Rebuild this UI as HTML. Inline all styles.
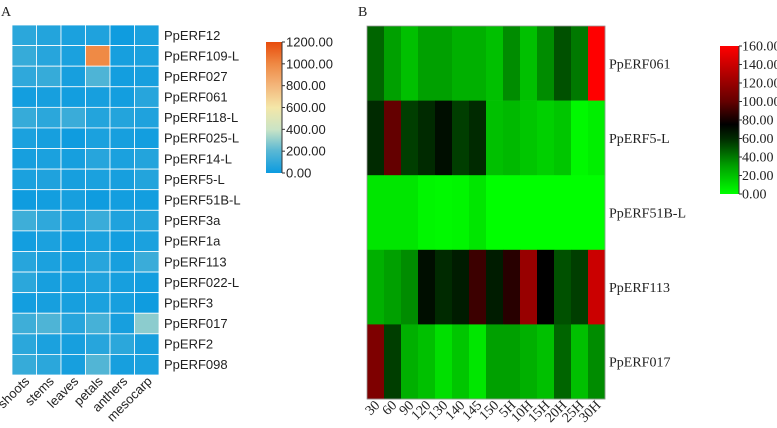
<!DOCTYPE html>
<html><head><meta charset="utf-8"><style>
body{margin:0;background:#fff;width:777px;height:428px;overflow:hidden}
svg{display:block}
.sa{font-family:"Liberation Sans",sans-serif;font-size:13px;fill:#222}
.sf{font-family:"Liberation Serif",serif;font-size:14px;fill:#222}
</style></head><body>
<svg id="c" width="777" height="428">
<text x="1" y="16" class="sf" font-size="18">A</text>
<text x="358" y="16" class="sf" font-size="18">B</text>
<defs>
<linearGradient id="ga" x1="0" y1="1" x2="0" y2="0">
<stop offset="0" stop-color="#0b9be0"/><stop offset="0.17" stop-color="#5ab8d4"/><stop offset="0.33" stop-color="#c9e4c6"/><stop offset="0.5" stop-color="#f4e7a8"/><stop offset="0.67" stop-color="#f3b57a"/><stop offset="0.83" stop-color="#ef8a45"/><stop offset="1" stop-color="#e84c0c"/></linearGradient>
<linearGradient id="gb" x1="0" y1="1" x2="0" y2="0">
<stop offset="0" stop-color="#00ff00"/><stop offset="0.19" stop-color="#00a000"/><stop offset="0.375" stop-color="#002a00"/><stop offset="0.47" stop-color="#000"/><stop offset="0.625" stop-color="#640000"/><stop offset="1" stop-color="#ff0000"/></linearGradient>
</defs>
<g id="ga-g"></g><g id="gb-g"></g>
</svg>
<script>
const genesA=["PpERF12","PpERF109-L","PpERF027","PpERF061","PpERF118-L","PpERF025-L","PpERF14-L","PpERF5-L","PpERF51B-L","PpERF3a","PpERF1a","PpERF113","PpERF022-L","PpERF3","PpERF017","PpERF2","PpERF098"];
const tissues=["shoots","stems","leaves","petals","anthers","mesocarp"];
const valuesA=[
[80,60,40,50,10,40],[110,70,40,1000,30,40],[90,110,30,170,20,30],[20,30,20,30,20,70],
[110,80,120,60,60,50],[40,30,10,40,30,20],[30,40,30,70,40,60],[40,50,30,40,30,60],
[10,20,30,10,20,20],[130,90,50,120,50,60],[20,40,20,40,20,40],[70,40,30,70,30,120],
[80,30,30,50,30,20],[20,30,30,40,30,10],[130,170,70,150,30,290],[80,40,30,70,80,30],[110,80,30,180,30,40]];
const ticksA=["0.00","200.00","400.00","600.00","800.00","1000.00","1200.00"];
const genesB=["PpERF061","PpERF5-L","PpERF51B-L","PpERF113","PpERF017"];
const timesB=["30","60","90","120","130","140","145","150","5H","10H","15H","20H","25H","30H"];
const valuesB=[
[45,30,20,30,30,25,25,20,35,20,35,50,40,160],
[60,100,55,60,70,55,60,20,22,18,15,18,2,5],
[8,8,8,3,2,3,8,0,0,0,0,0,0,0],
[25,30,35,70,60,65,90,65,85,120,75,50,55,140],
[110,55,25,20,10,18,8,30,30,25,20,45,20,35]];
const ticksB=["0.00","20.00","40.00","60.00","80.00","100.00","120.00","140.00","160.00"];
const NS="http://www.w3.org/2000/svg";
function mk(t,a,p,txt){const e=document.createElementNS(NS,t);for(const k in a)e.setAttribute(k,a[k]);if(txt!==undefined)e.textContent=txt;p.appendChild(e);return e;}
function lerp(stops,v){for(let i=1;i<stops.length;i++){if(v<=stops[i][0]){const a=stops[i-1],b=stops[i];const t=(v-a[0])/(b[0]-a[0]);return "rgb("+[1,2,3].map(j=>Math.round(a[j]+(b[j]-a[j])*t)).join(",")+")";}}const l=stops[stops.length-1];return "rgb("+l[1]+","+l[2]+","+l[3]+")";}
const stA=[[0,11,155,224],[200,90,184,212],[400,201,228,198],[600,244,231,168],[800,243,181,122],[1000,239,138,69],[1200,232,76,12]];
const stB=[[0,0,255,0],[30,0,160,0],[60,0,42,0],[75,0,0,0],[100,100,0,0],[160,255,0,0]];
const gA=document.getElementById("ga-g"),gB=document.getElementById("gb-g");
// Panel A
const ax0=12,ay0=25,cw=24.5,rh=350/17;
valuesA.forEach((row,r)=>{row.forEach((v,c)=>{const e=mk("rect",{x:ax0+c*cw,y:ay0+r*rh,width:cw,height:rh,fill:lerp(stA,v),stroke:"#fff","stroke-width":0.8},gA);

});
const t=mk("text",{x:164,y:ay0+(r+0.5)*rh+4.5,class:"sa"},gA,genesA[r]);

});
tissues.forEach((s,c)=>{const x=ax0+(c+0.5)*cw+6;const t=mk("text",{x:x,y:382,class:"sa","font-size":"12","text-anchor":"end",transform:"rotate(-45 "+x+" 382)"},gA,s);

});
const cbA=mk("rect",{x:266,y:42,width:16,height:131,fill:"url(#ga)"},gA);


mk("line",{x1:282,y1:42,x2:282,y2:173,stroke:"#333"},gA);
ticksA.forEach((s,i)=>{const y=173-i*131/6;mk("line",{x1:282,y1:y,x2:285,y2:y,stroke:"#333"},gA);
const t=mk("text",{x:286,y:y+4.5,class:"sa","font-size":"12"},gA,s);

});
// Panel B
const bx0=367,by0=26,bw=238/14,bh=373/5;
valuesB.forEach((row,r)=>{row.forEach((v,c)=>{const e=mk("rect",{x:bx0+c*bw,y:by0+r*bh,width:bw+0.3,height:bh+0.3,fill:lerp(stB,v)},gB);

});
const t=mk("text",{x:609,y:by0+(r+0.5)*bh+5,class:"sf"},gB,genesB[r]);

});
mk("rect",{x:bx0,y:by0,width:238,height:373,fill:"none",stroke:"#999","stroke-width":0.8},gB);
timesB.forEach((s,c)=>{const x=bx0+(c+0.5)*bw+5;const t=mk("text",{x:x,y:406,class:"sf","font-size":"12","text-anchor":"end",transform:"rotate(-45 "+x+" 406)"},gB,s);

});
const cbB=mk("rect",{x:720,y:46,width:19,height:148,fill:"url(#gb)"},gB);


mk("line",{x1:739,y1:46,x2:739,y2:194,stroke:"#333"},gB);
ticksB.forEach((s,i)=>{const y=194-i*148/8;mk("line",{x1:739,y1:y,x2:742,y2:y,stroke:"#333"},gB);
const t=mk("text",{x:742,y:y+4.5,class:"sf","font-size":"12"},gB,s);

});
</script>
</body></html>
